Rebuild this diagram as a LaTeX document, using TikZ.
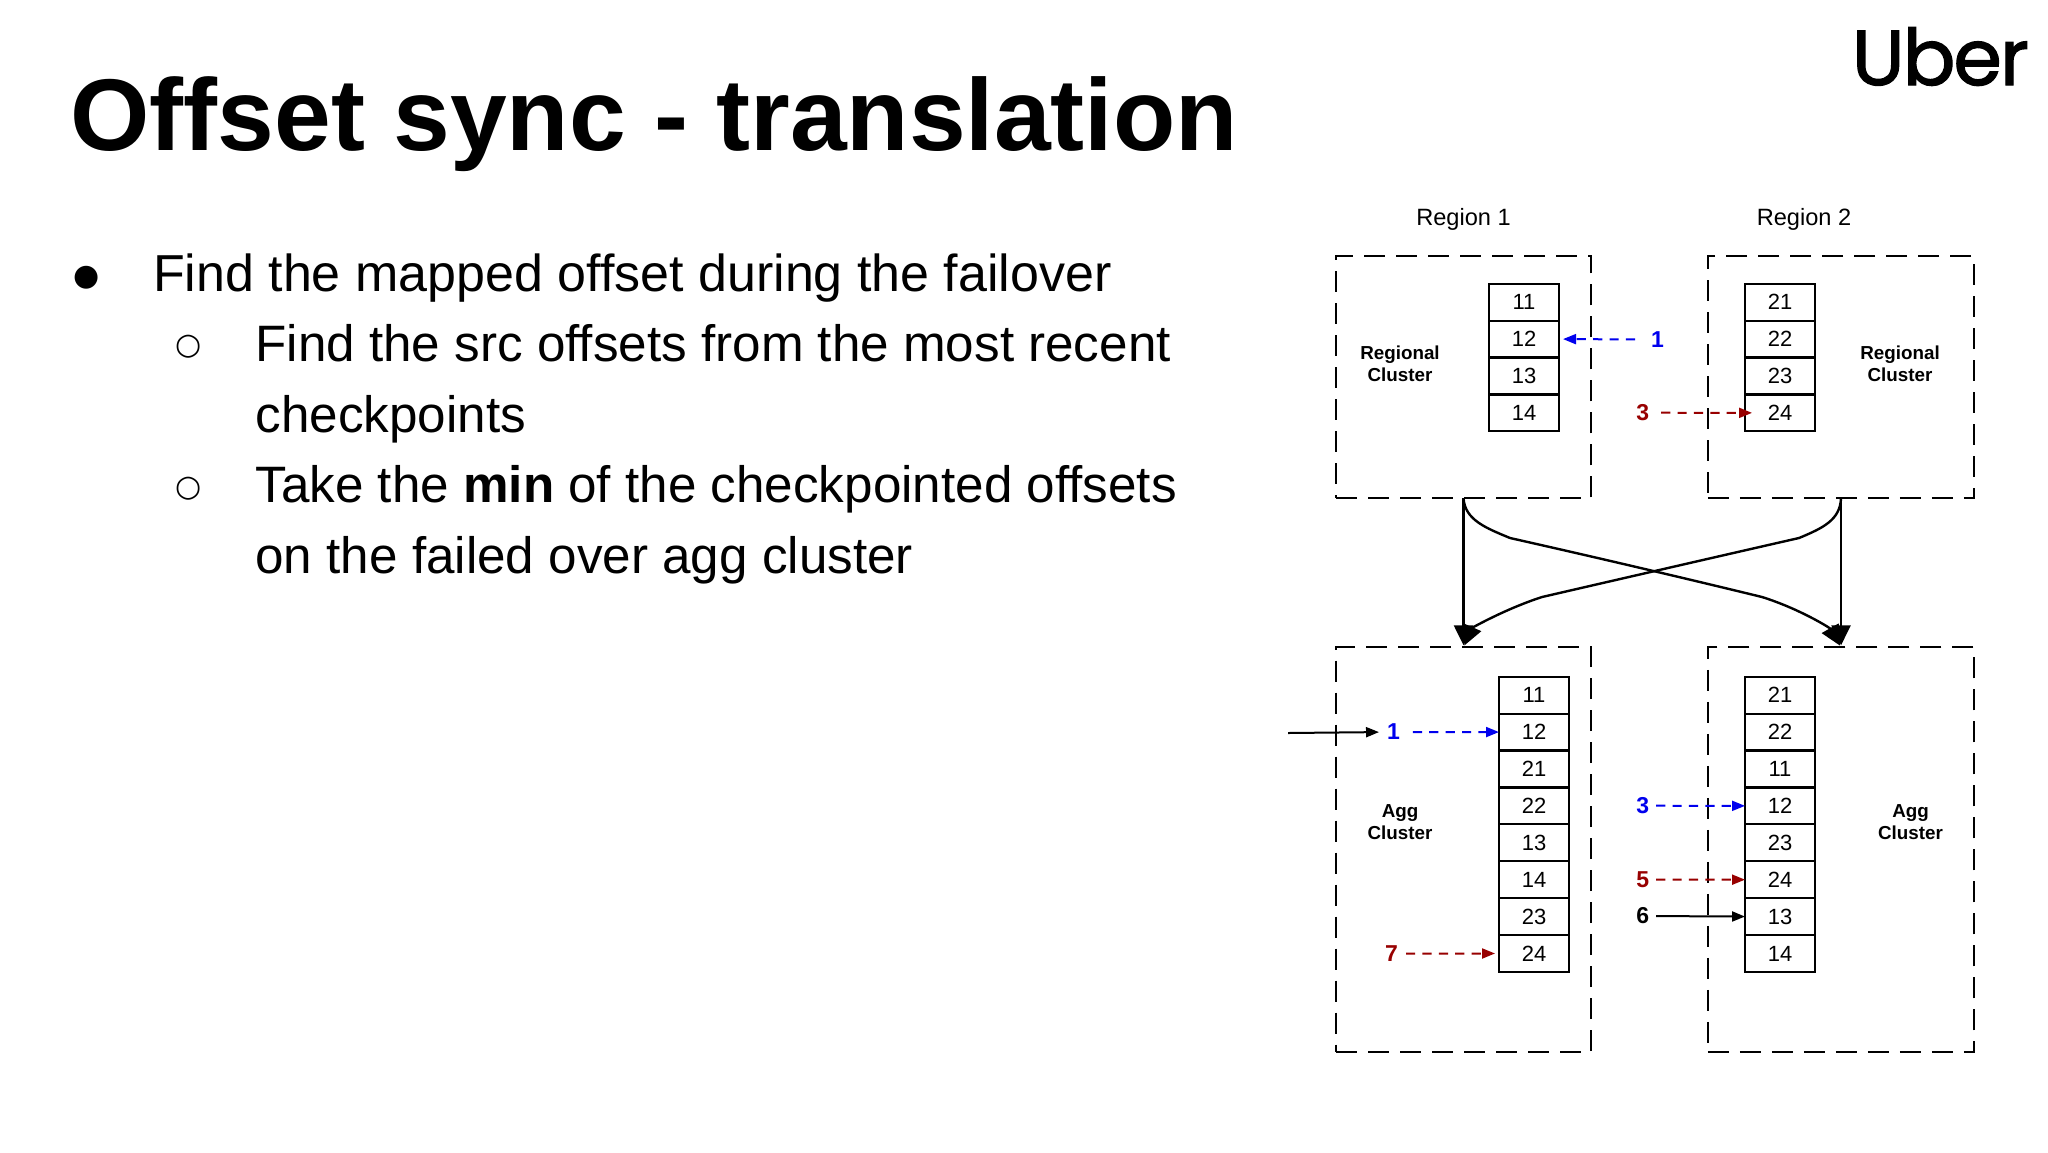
\documentclass[tikz,border=0pt]{standalone}
\usepackage{fontspec}
\setmainfont{Liberation Sans}
\newfontfamily\bulletfont{DejaVu Sans}
\newfontfamily\logofont[FakeBold=1.6,LetterSpace=-2.5]{Poppins}
\usetikzlibrary{arrows.meta}
\definecolor{numblue}{RGB}{0,0,238}
\definecolor{numred}{RGB}{152,0,0}
\tikzset{
  txt/.style={inner sep=0pt,outer sep=0pt,anchor=base west,font=\fontsize{26}{26}\selectfont},
  subtxt/.style={txt,font=\fontsize{25.6}{25.6}\selectfont},
  bul/.style={inner sep=0pt,outer sep=0pt,font=\bulletfont\fontsize{15}{15}\selectfont},
  cell/.style={draw,line width=1.1pt,minimum width=35pt,minimum height=18.45pt,inner sep=0pt,outer sep=0pt,font=\fontsize{11}{11}\selectfont},
  cluster/.style={draw,line width=1.1pt,dash pattern=on 10.5pt off 5.5pt,inner sep=0pt,outer sep=0pt},
  lbl/.style={inner sep=0pt,align=center,font=\bfseries\fontsize{9.4}{11}\selectfont},
  region/.style={inner sep=0pt,font=\fontsize{11.8}{11.8}\selectfont},
  num/.style={inner sep=0pt,outer sep=0pt,font=\bfseries\fontsize{11.5}{11.5}\selectfont},
  small/.style={-{Triangle[length=6.5pt,width=5pt]},line width=1pt},
  dsh/.style={small,dash pattern=on 4.6pt off 3.6pt},
  flow/.style={-{Triangle[length=10pt,width=9.5pt]},line width=1.2pt,shorten >=1pt},
}
\newcommand{\cellstack}[4]{%
  \foreach \v [count=\i] in {#4} {
    \node[cell] (#1-\i) at (#2,{#3+(\i-0.5)*36.9}) {\v};
  }
}
\begin{document}
\begin{tikzpicture}[x=0.5pt,y=-0.5pt]
\useasboundingbox (0,0) rectangle (2048,1152);
\fill[white] (0,0) rectangle (2048,1152);
% title and logo
\node[inner sep=0pt,anchor=base west,font=\bfseries\fontsize{51}{51}\selectfont] (title) at (70,150) {Offset sync - translation};
\node[inner sep=0pt,anchor=base west,font=\logofont\fontsize{39}{39}\selectfont] (logo) at (1851.5,85) {Uber};
% bullets
\node[bul] (b0) at (87,277.5) {●};
\node[txt] (t0) at (153,291) {Find the mapped offset during the failover};
\node[bul] (b1) at (189,347) {○};
\node[subtxt] (t1) at (255.5,361) {Find the src offsets from the most recent};
\node[subtxt] (t2) at (255.5,432) {checkpoints};
\node[bul] (b2) at (189,488.5) {○};
\node[subtxt] (t3) at (255.5,502) {Take the \textbf{min} of the checkpointed offsets};
\node[subtxt] (t4) at (255.5,573) {on the failed over agg cluster};
% regions
\node[region] (reg1) at (1463.5,219.5) {Region 1};
\node[region] (reg2) at (1804,219.5) {Region 2};
% clusters
\node[cluster,minimum width=127.5pt,minimum height=121.3pt] (R1) at (1463.5,377) {};
\node[cluster,minimum width=133.2pt,minimum height=121.3pt] (R2) at (1841,377) {};
\node[cluster,minimum width=127.5pt,minimum height=202.35pt] (A1) at (1463.5,849.7) {};
\node[cluster,minimum width=133.2pt,minimum height=202.35pt] (A2) at (1841,849.7) {};
\node[lbl] (lR1) at (1400,363.5) {Regional\\Cluster};
\node[lbl] (lR2) at (1900,363.5) {Regional\\Cluster};
\node[lbl] (lA1) at (1400,822) {Agg\\Cluster};
\node[lbl] (lA2) at (1910.5,822) {Agg\\Cluster};
% stacks
\cellstack{r}{1524}{283.7}{11,12,13,14}
\cellstack{s}{1780}{283.7}{21,22,23,24}
\cellstack{a}{1534}{676.7}{11,12,21,22,13,14,23,24}
\cellstack{b}{1780}{676.7}{21,22,11,12,23,24,13,14}
% numbers
\node[num,text=numblue] (n1) at (1657.5,339.5) {1};
\node[num,text=numred] (n3) at (1642.7,412.7) {3};
\node[num,text=numblue] (m1) at (1393.4,732) {1};
\node[num,text=numred] (m7) at (1391.6,953.7) {7};
\node[num,text=numblue] (p3) at (1642.7,805.7) {3};
\node[num,text=numred] (p5) at (1642.7,879.7) {5};
\node[num] (p6) at (1642.7,916) {6};
\coordinate (ext) at (1288,733);
% marker arrows
\draw[dsh,numblue,shorten <=8pt,shorten >=2pt] (n1.west) -- (r-2.east);
\draw[dsh,numred,shorten <=6pt,shorten >=-3.5pt] (n3.east) -- (s-4.west);
\draw[dsh,numblue,shorten <=6.5pt] (m1.east) -- (a-2.west);
\draw[dsh,numred,shorten <=4pt,shorten >=2pt] (m7.east) -- (a-8.west);
\draw[dsh,numblue,shorten <=3.5pt] (p3.east) -- (b-4.west);
\draw[dsh,numred,shorten <=3.5pt] (p5.east) -- (b-6.west);
\draw[small,shorten <=3.5pt] (p6.east) -- (b-7.west);
\draw[small,shorten >=4pt] (ext) -- (m1.west);
% flows
\draw[flow] (R1.south) -- (A1.north);
\draw[flow] (R2.south) -- (A2.north);
\draw[flow] (R1.south) .. controls (1465,520) and (1486,528) .. (1510,538)
  .. controls (1590,556) and (1680,577) .. (1762,597)
  .. controls (1800,609) and (1830,628) .. (A2.north);
\draw[flow] (R2.south) .. controls (1840,520) and (1823,528) .. (1799,538)
  .. controls (1720,556) and (1620,579) .. (1542,597)
  .. controls (1505,609) and (1472,628) .. (A1.north);
\end{tikzpicture}
\end{document}
